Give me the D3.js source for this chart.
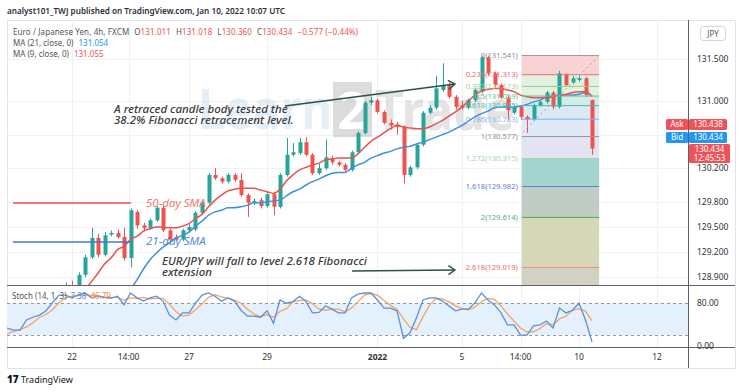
<!DOCTYPE html>
<html><head><meta charset="utf-8">
<script src="https://cdn.jsdelivr.net/npm/d3@7"></script>
<style>body{margin:0;background:#fff}svg{display:block}text{font-family:"Noto Sans","Open Sans",sans-serif}</style>
</head><body>
<svg id="c" width="740" height="392"></svg>
<script>
// ---------- DATA ----------
const candles = [
[128.35,128.42,128.30,128.38],[128.38,128.40,128.28,128.32],[128.32,128.36,128.27,128.34],[128.34,128.50,128.33,128.48],
[128.48,128.55,128.44,128.52],[128.52,128.58,128.48,128.56],[128.56,128.65,128.53,128.62],[128.62,128.74,128.60,128.72],
[128.72,128.80,128.68,128.77],[128.77,128.84,128.72,128.81],[128.81,128.86,128.76,128.78],[128.78,128.96,128.76,128.93],
[128.93,129.17,128.90,129.14],[129.14,129.49,129.12,129.37],[129.37,129.42,129.14,129.17],[129.17,129.44,129.15,129.40],
[129.41,129.46,129.39,129.43],[129.43,129.47,129.36,129.38],[129.38,129.49,129.10,129.13],[129.13,129.72,129.02,129.70],
[129.68,129.70,129.48,129.52],[129.52,129.55,129.46,129.49],[129.49,129.60,129.47,129.58],[129.58,129.75,129.56,129.73],
[129.73,129.76,129.44,129.46],[129.46,129.48,129.32,129.35],[129.38,129.41,129.33,129.35],[129.35,129.48,129.33,129.46],
[129.46,129.53,129.44,129.50],[129.47,129.69,129.45,129.67],[129.67,129.81,129.65,129.79],[129.79,130.14,129.77,130.12],
[130.12,130.20,130.06,130.08],[130.08,130.10,130.02,130.04],[130.04,130.14,130.02,130.12],[130.12,130.14,130.04,130.06],
[130.06,130.14,129.86,129.88],[129.88,129.90,129.62,129.79],[129.79,129.84,129.76,129.81],[129.82,129.85,129.72,129.75],
[129.75,129.91,129.73,129.89],[129.89,129.92,129.64,129.74],[129.74,130.14,129.72,130.12],[130.12,130.56,130.10,130.36],
[130.36,130.50,130.34,130.39],[130.38,130.56,130.36,130.51],[130.51,130.57,130.34,130.36],[130.36,130.38,130.12,130.14],
[130.14,130.25,130.12,130.20],[130.20,130.54,130.18,130.33],[130.32,130.35,130.24,130.27],[130.27,130.29,130.22,130.24],
[130.24,130.26,130.16,130.18],[130.18,130.41,130.16,130.39],[130.39,130.64,130.37,130.62],[130.62,131.00,130.60,130.98],
[130.98,131.05,130.95,131.01],[131.01,131.03,130.85,130.87],[130.87,130.89,130.72,130.74],[130.74,130.78,130.66,130.71],
[130.72,130.75,130.60,130.69],[130.69,130.71,130.02,130.12],[130.12,130.23,130.10,130.21],[130.21,130.50,130.19,130.48],
[130.48,130.88,130.46,130.86],[130.86,130.95,130.84,130.92],[130.92,131.30,130.90,131.15],[131.13,131.45,131.11,131.19],
[131.19,131.22,131.03,131.05],[131.05,131.07,130.90,130.93],[130.95,131.00,130.90,130.92],[130.92,131.03,130.90,131.01],
[131.01,131.15,130.99,131.13],[131.11,131.541,131.09,131.52],[131.52,131.54,131.30,131.33],[131.33,131.35,131.17,131.19],
[131.19,131.21,131.02,131.04],[131.04,131.06,130.77,130.89],[130.86,130.95,130.84,130.93],[130.93,130.95,130.78,130.81],
[130.81,130.83,130.62,130.78],[130.78,130.97,130.76,130.95],[130.95,131.01,130.93,130.99],[130.99,131.12,130.97,131.10],
[131.10,131.12,130.90,130.93],[130.93,131.36,130.91,131.33],[131.31,131.33,131.17,131.19],[131.22,131.30,131.20,131.27],
[131.25,131.30,131.23,131.27],[131.27,131.29,131.05,131.07],[131.011,131.018,130.360,130.434]
];
const ma9Start = 12;
const ma9 = [128.75,128.85,128.95,129.06,129.13,129.23,129.27,129.35,129.39,129.45,129.48,129.50,129.50,129.49,129.49,129.51,129.54,129.60,129.65,129.74,129.82,129.88,129.93,129.95,129.96,129.96,129.96,129.94,129.92,129.90,129.95,130.05,130.12,130.18,130.21,130.24,130.26,130.30,130.31,130.32,130.32,130.32,130.37,130.45,130.52,130.57,130.62,130.67,130.71,130.69,130.68,130.67,130.67,130.69,130.73,130.77,130.82,130.87,130.93,131.00,131.07,131.12,131.14,131.15,131.15,131.13,131.11,131.07,131.05,131.04,131.04,131.04,131.05,131.07,131.08,131.10,131.11,131.11,131.055];
const ma21Start = 17;
const ma21 = [128.63,128.69,128.76,128.87,129.00,129.11,129.19,129.26,129.31,129.37,129.40,129.44,129.51,129.57,129.64,129.68,129.70,129.73,129.73,129.74,129.76,129.79,129.79,129.80,129.81,129.82,129.87,129.92,129.95,130.00,130.04,130.07,130.11,130.14,130.15,130.15,130.20,130.24,130.27,130.32,130.35,130.38,130.40,130.43,130.45,130.46,130.49,130.51,130.54,130.57,130.60,130.63,130.67,130.71,130.76,130.81,130.85,130.88,130.92,130.93,130.93,130.93,130.94,130.96,130.99,131.01,131.05,131.06,131.07,131.07,131.07,131.08,131.10,131.054];
const stochK = [33,29,29,48,53,57,65,80,94,94,89,95,98,89,92,90,88,92,76,98,89,83,89,92,83,57,48,61,61,79,94,98,92,83,89,83,66,55,55,53,65,42,85,79,82,92,82,61,62,74,68,61,61,89,96,98,98,85,70,70,65,14,24,52,85,89,89,83,74,65,68,68,80,98,85,76,61,39,39,20,20,37,39,46,33,70,61,66,79,48,7.38];
const stochD = [22,27,30,35,43,53,58,67,80,89,92,93,94,94,93,90,90,90,85,89,88,90,87,88,88,77,63,55,57,67,78,90,95,91,88,85,79,68,59,54,58,53,64,69,82,84,85,78,68,66,68,68,63,70,82,94,97,94,84,75,68,50,34,30,54,75,88,87,82,74,69,67,72,82,88,86,74,59,46,33,26,26,32,41,39,50,55,66,69,64,46.79];
const timeTicks = [{i:10,t:"22"},{i:18.7,t:"14:00"},{i:28,t:"27"},{i:40,t:"29"},{i:57,t:"2022",b:true},{i:70,t:"5"},{i:79,t:"14:00"},{i:88,t:"10"},{i:100,t:"12"}];
const priceTicks = [131.5,131.0,130.2,129.8,129.5,129.2,128.9];
const gridPrices = [131.5,131.0,130.6,130.2,129.8,129.5,129.2,128.9];
const stochLevels = [80,20];
const fibRatios = ["0","0.236","0.382","0.5","0.618","0.786","1","1.272","1.618","2","2.618"];
const fibValues = [131.541,131.313,131.173,131.059,130.945,130.783,130.577,130.315,129.982,129.614,129.019];
const fibLineColors = ["#9598a1","#f06a6a","#8fd18f","#6cc08a","#4db6ac","#7fb3e6","#9598a1","#a5d6a7","#5b7fd6","#4caf50","#f08a80"];
const fibLabelColors = ["#8a8d96","#f06a6a","#9ad69a","#6cc08a","#4db6ac","#7fb3e6","#8a8d96","#a5d6a7","#5b7fd6","#4caf88","#ef6b60"];
const fibFills = ["#f9d3d3","#e1f0e0","#e4f2e2","#d4ece9","#dbe9f3","#e0e9f8","#e3e4f1","#a3d4d0","#c0cdc5","#d6d7b7","#d3d2c1"];
const fibSpan = [79.2, 91.1];

// ---------- SCALES ----------
const svg = d3.select("#c");
const L=7, R=688, mainTop=20, mainBot=285, stBot=347, axBot=368;
const x = d3.scaleLinear().domain([0,100]).range([7,657]);
const y = d3.scaleLinear().domain([128.9,131.5]).range([277.4,59]);
const ys = d3.scaleLinear().domain([0,80]).range([345.8,302.7]);
const up="#26a69a", dn="#ef5350";

svg.append("defs").html(`<clipPath id="mc"><rect x="${L}" y="${mainTop}" width="${R-L}" height="${mainBot-mainTop}"/></clipPath>
<clipPath id="sc"><rect x="${L}" y="${mainBot}" width="${R-L}" height="${stBot-mainBot}"/></clipPath>`);

svg.append("rect").attr("x",L+0.5).attr("y",mainTop+0.5).attr("width",735-L).attr("height",axBot-mainTop).attr("fill","none").attr("stroke","#e0e3eb");

const g = svg.append("g");
timeTicks.forEach(d=>{ const xx=Math.round(x(d.i))+0.5;
  g.append("line").attr("x1",xx).attr("x2",xx).attr("y1",mainTop).attr("y2",stBot).attr("stroke","#eef1f6");});
gridPrices.forEach(p=>{ const yy=Math.round(y(p))+0.5;
  g.append("line").attr("x1",L).attr("x2",R).attr("y1",yy).attr("y2",yy).attr("stroke","#eef1f6");});

const wm = svg.append("g").attr("opacity",0.4);
wm.append("text").attr("x",198).attr("y",129).attr("font-size",56).attr("font-weight",700).attr("fill","#bcd8ef").attr("textLength",134).attr("lengthAdjust","spacingAndGlyphs").text("Learn");
wm.append("rect").attr("x",333).attr("y",82).attr("width",39).attr("height",55).attr("fill","#a9a9a9");
wm.append("text").attr("x",352).attr("y",129).attr("text-anchor","middle").attr("font-size",52).attr("font-weight",700).attr("fill","#ffffff").text("2");
wm.append("text").attr("x",375).attr("y",130).attr("font-size",56).attr("font-weight",700).attr("fill","#bdbdbd").attr("textLength",140).attr("lengthAdjust","spacingAndGlyphs").text("Trade");

const fz = svg.append("g").attr("clip-path","url(#mc)");
const fx0=x(fibSpan[0]), fx1=x(fibSpan[1]);
fibValues.forEach((v,k)=>{
  const top=y(v), bot = k<fibValues.length-1 ? y(fibValues[k+1]) : mainBot;
  fz.append("rect").attr("x",fx0).attr("y",top).attr("width",fx1-fx0).attr("height",bot-top).attr("fill",fibFills[k]);
});

svg.append("rect").attr("x",L).attr("y",ys(80)).attr("width",R-L).attr("height",ys(20)-ys(80)).attr("fill","#e4f0fb");
stochLevels.forEach(v=>svg.append("line").attr("x1",L).attr("x2",R).attr("y1",Math.round(ys(v))+0.5).attr("y2",Math.round(ys(v))+0.5).attr("stroke","#9598a1").attr("stroke-dasharray","3,3"));

const cg = svg.append("g").attr("clip-path","url(#mc)");
candles.forEach((c,i)=>{
  const [o,h,l,cl]=c, col = cl>=o?up:dn, cx=Math.round(x(i));
  cg.append("line").attr("x1",cx+0.5).attr("x2",cx+0.5).attr("y1",y(h)).attr("y2",y(l)).attr("stroke",col).attr("stroke-width",1);
  const t=Math.min(y(o),y(cl)), b=Math.max(y(o),y(cl));
  cg.append("rect").attr("x",cx-1.5).attr("y",t).attr("width",4).attr("height",Math.max(1,b-t)).attr("fill",col);
});

const line = d3.line().x(d=>x(d[0])).y(d=>y(d[1])).curve(d3.curveMonotoneX);
cg.append("path").attr("d",line(ma21.map((v,k)=>[k+ma21Start,v]))).attr("fill","none").attr("stroke","#3d8fe0").attr("stroke-width",1.5);
cg.append("path").attr("d",line(ma9.map((v,k)=>[k+ma9Start,v]))).attr("fill","none").attr("stroke","#e8514f").attr("stroke-width",1.5);

const fl = svg.append("g");
fibValues.forEach((v,k)=>{
  const yy=y(v);
  fl.append("line").attr("x1",fx0).attr("x2",fx1).attr("y1",yy).attr("y2",yy).attr("stroke",fibLineColors[k]).attr("stroke-width",1);
  fl.append("text").attr("x",fx0-4).attr("y",yy).attr("dy","0.35em").attr("text-anchor","end").attr("font-size",7.6).attr("fill",fibLabelColors[k]).text(`${fibRatios[k]}(${v.toFixed(3)})`);
});
fl.append("line").attr("x1",x(79.4)).attr("y1",y(130.631)).attr("x2",x(90.9)).attr("y2",y(131.524)).attr("stroke","#9aa0a8").attr("stroke-width",1).attr("stroke-dasharray","2,3");

const sl = d3.line().x((d,i)=>x(i)).y(d=>ys(d));
const sg = svg.append("g").attr("clip-path","url(#sc)");
sg.append("path").attr("d",sl(stochD)).attr("fill","none").attr("stroke","#f4a460").attr("stroke-width",1.3);
sg.append("path").attr("d",sl(stochK)).attr("fill","none").attr("stroke","#5b8fe0").attr("stroke-width",1.3);

svg.append("line").attr("x1",L).attr("x2",735).attr("y1",mainBot+0.5).attr("y2",mainBot+0.5).attr("stroke","#5d606b");
svg.append("line").attr("x1",L).attr("x2",735).attr("y1",stBot+0.5).attr("y2",stBot+0.5).attr("stroke","#5d606b");
svg.append("line").attr("x1",R+0.5).attr("x2",R+0.5).attr("y1",mainTop).attr("y2",axBot).attr("stroke","#5d606b");

const an = svg.append("g");
const txt=(i,p,s,dy,col)=>an.append("text").attr("x",x(i)).attr("y",y(p)+dy).attr("font-size",11.5).attr("font-style","italic").attr("font-weight",500).attr("fill",col).text(s);
txt(16.46,130.857,"A retraced candle body tested the",0,"#3b3b3b");
txt(16.46,130.857,"38.2% Fibonacci retracement level.",11,"#3b3b3b");
txt(23.85,129.048,"EUR/JPY will fall to level 2.618 Fibonacci",0,"#3b3b3b");
txt(23.85,129.048,"extension",11,"#3b3b3b");
const arrow=(i0,p0,i1,p1)=>{
  const x0=x(i0),y0=y(p0),x1=x(i1),y1=y(p1), a=Math.atan2(y1-y0,x1-x0), h=8;
  an.append("line").attr("x1",x0).attr("y1",y0).attr("x2",x1).attr("y2",y1).attr("stroke","#2f4f4a").attr("stroke-width",1.4);
  an.append("path").attr("d",`M${x1-h*Math.cos(a-0.6)},${y1-h*Math.sin(a-0.6)}L${x1},${y1}L${x1-h*Math.cos(a+0.6)},${y1-h*Math.sin(a+0.6)}`).attr("fill","none").attr("stroke","#2f4f4a").attr("stroke-width",1.4);
};
arrow(42.77,130.940,68.92,131.202);
arrow(53.08,128.976,68.92,128.988);
an.append("line").attr("x1",x(0.92)).attr("x2",x(19.08)).attr("y1",y(129.786)).attr("y2",y(129.786)).attr("stroke","#e8514f").attr("stroke-width",1.4);
an.append("line").attr("x1",x(0.92)).attr("x2",x(19.08)).attr("y1",y(129.321)).attr("y2",y(129.321)).attr("stroke","#3d78d8").attr("stroke-width",1.4);
an.append("text").attr("x",x(21.38)).attr("y",y(129.786)+4).attr("font-size",11.5).attr("font-style","italic").attr("fill","#ef6b60").attr("opacity",0.9).text("50-day SMA");
an.append("text").attr("x",x(21.38)).attr("y",y(129.321)+3).attr("font-size",11.5).attr("font-style","italic").attr("fill","#4a7fd9").attr("opacity",0.9).text("21-day SMA");

const ax = svg.append("g");
priceTicks.forEach(p=>ax.append("text").attr("x",697).attr("y",y(p)).attr("dy","0.35em").attr("font-size",8.5).attr("fill","#333").text(p.toFixed(3)));
ax.append("text").attr("x",697).attr("y",ys(80)).attr("dy","0.35em").attr("font-size",8.5).attr("fill","#333").text("80.00");
ax.append("text").attr("x",697).attr("y",ys(0)).attr("dy","0.35em").attr("font-size",8.5).attr("fill","#333").text("0.00");
ax.append("rect").attr("x",700.5).attr("y",26.5).attr("width",25).attr("height",14).attr("rx",3).attr("fill","#fff").attr("stroke","#d1d4dc");
ax.append("text").attr("x",713).attr("y",34).attr("dy","0.35em").attr("text-anchor","middle").attr("font-size",8).attr("fill","#555").text("JPY");
const tag=(x0,y0,w,h,col,s)=>{ax.append("rect").attr("x",x0).attr("y",y0).attr("width",w).attr("height",h).attr("rx",1.5).attr("fill",col);
  ax.append("text").attr("x",x0+w/2).attr("y",y0+h/2).attr("dy","0.35em").attr("text-anchor","middle").attr("font-size",8).attr("fill","#fff").text(s);};
tag(666,119,22,11,"#f0525a","Ask"); tag(689,119,38,11,"#f0525a","130.438");
tag(666,132,22,11,"#2196f3","Bid"); tag(689,132,38,11,"#2196f3","130.434");
ax.append("rect").attr("x",689).attr("y",144).attr("width",41).attr("height",19).attr("rx",1.5).attr("fill","#f0525a");
ax.append("text").attr("x",709.5).attr("y",149.5).attr("dy","0.35em").attr("text-anchor","middle").attr("font-size",8).attr("fill","#fff").text("130.434");
ax.append("text").attr("x",709.5).attr("y",158.5).attr("dy","0.35em").attr("text-anchor","middle").attr("font-size",8).attr("fill","#fff").text("12:45:53");

timeTicks.forEach(d=>ax.append("text").attr("x",x(d.i)).attr("y",357).attr("dy","0.35em").attr("text-anchor","middle").attr("font-size",8.5).attr("font-weight",d.b?700:400).attr("fill","#333").text(d.t));

svg.append("text").attr("x",7).attr("y",14).attr("font-size",8.8).attr("font-weight",600).attr("fill","#2a2e39").attr("textLength",278).attr("lengthAdjust","spacingAndGlyphs").text("analyst101_TWJ published on TradingView.com, Jan 10, 2022 10:07 UTC");
const lg = svg.append("g").attr("font-size",8);
const t1 = lg.append("text").attr("x",13).attr("y",35).attr("fill","#555").attr("textLength",345).attr("lengthAdjust","spacing");
t1.append("tspan").text("Euro / Japanese Yen, 4h, FXCM");
[["O","131.011"],["H","131.018"],["L","130.360"],["C","130.434"]].forEach(([a,b])=>{
  t1.append("tspan").attr("dx",5).attr("fill","#555").text(a); t1.append("tspan").attr("fill","#ef5350").text(b);});
t1.append("tspan").attr("dx",5).attr("fill","#ef5350").text("−0.577 (−0.44%)");
const t2 = lg.append("text").attr("x",13).attr("y",46).attr("fill","#555");
t2.append("tspan").text("MA (21, close, 0)"); t2.append("tspan").attr("dx",5).attr("fill","#2196f3").text("131.054");
const t3 = lg.append("text").attr("x",13).attr("y",57).attr("fill","#555");
t3.append("tspan").text("MA (9, close, 0)"); t3.append("tspan").attr("dx",5).attr("fill","#ef5350").text("131.055");
const t4 = lg.append("text").attr("x",12).attr("y",299).attr("fill","#555");
t4.append("tspan").text("Stoch (14, 1, 3)"); t4.append("tspan").attr("dx",4).attr("fill","#5b8fe0").text("7.38");
t4.append("tspan").attr("dx",4).attr("fill","#f4883a").text("46.79");

svg.append("text").attr("x",7).attr("y",383).attr("font-size",10).attr("font-weight",900).attr("fill","#131722").text("17");
svg.append("text").attr("x",21).attr("y",383).attr("font-size",9).attr("fill","#131722").text("TradingView");
</script>
</body></html>
